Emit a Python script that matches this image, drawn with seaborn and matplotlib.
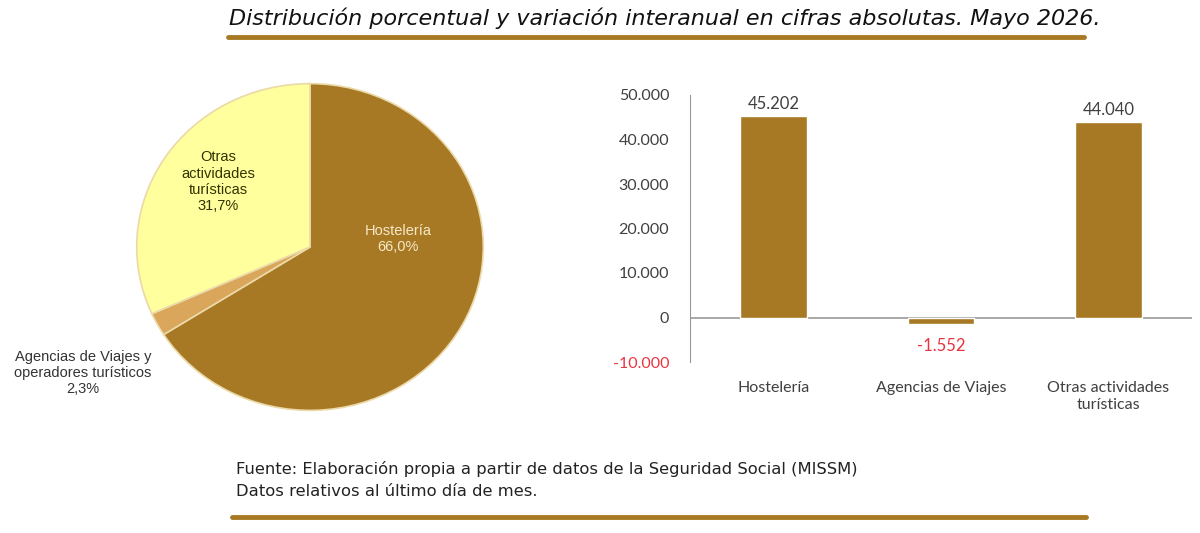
import matplotlib
matplotlib.use("Agg")
import matplotlib.pyplot as plt
from matplotlib.lines import Line2D
from matplotlib.ticker import FuncFormatter
import seaborn as sns
import pandas as pd

# --- Datos ---
pie_labels = ["Hostelería", "Agencias de Viajes y\noperadores turísticos", "Otras\nactividades\nturísticas"]
pie_shares = [66.0, 2.3, 31.7]

bar_labels = ["Hostelería", "Agencias de Viajes", "Otras actividades\nturísticas"]
bar_values = [45202, -1552, 44040]

yticks = [-10000, 0, 10000, 20000, 30000, 40000, 50000]

BROWN = "#A87924"
LIGHT_BROWN = "#D9A65B"
PALE_YELLOW = "#FFFF9E"
RED = "#E8343F"
GREY_TXT = "#404040"


def miles(v, pos=None):
    return f"{v:,.0f}".replace(",", ".")


sns.set_style("white")
plt.rcParams["font.family"] = ["DejaVu Sans"]

fig = plt.figure(figsize=(12, 5.33), dpi=100)

# --- Título y líneas decorativas ---
fig.text(0.554, 0.965, "Distribución porcentual y variación interanual en cifras absolutas. Mayo 2026.",
         ha="center", va="center", fontsize=16, style="italic", color="#111111")
fig.add_artist(Line2D([0.19, 0.903], [0.930, 0.930], color=BROWN, lw=3.5, transform=fig.transFigure))
fig.add_artist(Line2D([0.193, 0.905], [0.030, 0.030], color=BROWN, lw=3.5, transform=fig.transFigure))

fig.text(0.197, 0.100, "Fuente: Elaboración propia a partir de datos de la Seguridad Social (MISSM)\n"
         "Datos relativos al último día de mes.",
         ha="left", va="center", fontsize=11.8, color="#222222", linespacing=1.55)

# --- Gráfico de tarta ---
ax_pie = fig.add_axes([(310 - 175) / 1200, 1 - 412 / 533, 350 / 1200, 330 / 533])
wedges, _ = ax_pie.pie(pie_shares, colors=[BROWN, LIGHT_BROWN, PALE_YELLOW], startangle=90,
                       counterclock=False, wedgeprops=dict(edgecolor="#EBD9A8", linewidth=1.2))
ax_pie.set_aspect("auto")
ax_pie.set_xlim(-1.01, 1.01)
ax_pie.set_ylim(-1.01, 1.01)

pie_font = dict(family=["Liberation Sans", "DejaVu Sans"], fontsize=10.5, ha="center", va="center")
ax_pie.text(0.51, 0.05, f"{pie_labels[0]}\n{pie_shares[0]:.1f}%".replace(".", ","),
            color="#F6E8C8", **pie_font)
ax_pie.text(-0.53, 0.40, f"{pie_labels[2]}\n{pie_shares[2]:.1f}%".replace(".", ","),
            color="#333300", **pie_font)
ax_pie.text(-1.31, -0.77, f"{pie_labels[1]}\n{pie_shares[1]:.1f}%".replace(".", ","),
            color="#333333", **pie_font)

# --- Gráfico de barras ---
ax_bar = fig.add_axes([690 / 1200, 1 - 362 / 533, 502 / 1200, (362 - 95) / 533])
df = pd.DataFrame({"actividad": bar_labels, "variacion": bar_values})
sns.barplot(data=df, x="actividad", y="variacion", color=BROWN, saturation=1, width=0.4, ax=ax_bar)

ax_bar.set_ylim(-10000, 50000)
ax_bar.set_xlim(-0.5, 2.5)
ax_bar.set_yticks(yticks)
ax_bar.yaxis.set_major_formatter(FuncFormatter(miles))
ax_bar.axhline(0, color="#999999", lw=1.2, zorder=0)
ax_bar.set_xlabel("")
ax_bar.set_ylabel("")

for s in ["top", "right", "bottom"]:
    ax_bar.spines[s].set_visible(False)
ax_bar.spines["left"].set_color("#999999")
ax_bar.tick_params(axis="y", length=5, color="#999999", labelsize=11.5, labelcolor=GREY_TXT, pad=10)
ax_bar.tick_params(axis="x", length=0, labelsize=11.5, labelcolor=GREY_TXT, pad=14)
for lab in ax_bar.get_yticklabels() + ax_bar.get_xticklabels():
    lab.set_family(["Lato", "DejaVu Sans"])
for lab, v in zip(ax_bar.get_yticklabels(), yticks):
    if v < 0:
        lab.set_color(RED)

for i, v in enumerate(bar_values):
    ax_bar.text(i, v + (900 if v >= 0 else -3000), miles(v), ha="center",
                va="bottom" if v >= 0 else "top", fontsize=12,
                family=["Lato", "DejaVu Sans"], color=GREY_TXT if v >= 0 else RED)

fig.savefig("out.png", dpi=100)
